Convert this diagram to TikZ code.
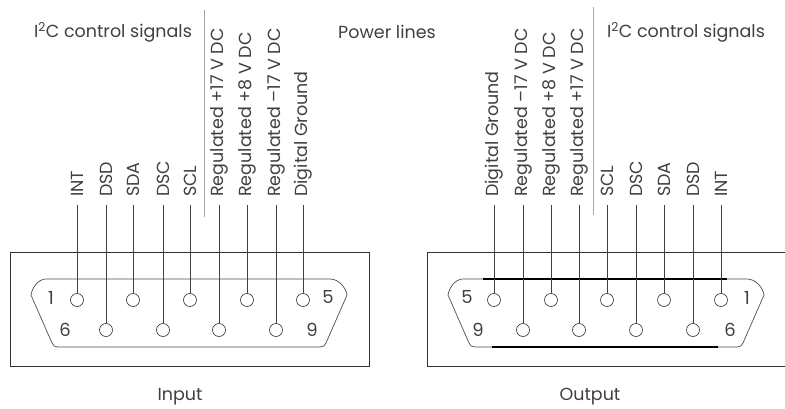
\documentclass[tikz,border=0pt]{standalone}
\usepackage{fontspec}
\setmainfont{Poppins}
\begin{document}
\begin{tikzpicture}[x=1pt,y=-1pt,
  wire/.style={draw=black!75,line width=0.8pt},
  sep/.style={draw=black!35,line width=0.8pt},
  frame/.style={draw=black!80,line width=0.7pt},
  shell/.style={draw=black!70,line width=0.7pt},
  pin/.style={circle,draw=black!80,line width=0.6pt,minimum size=13pt,inner sep=0pt},
  plab/.style={rotate=90,anchor=west,inner sep=0pt,font=\fontsize{17.5}{17.5}\selectfont,text=black!75},
  head/.style={font=\fontsize{17.5}{17.5}\selectfont,text=black!75,inner sep=0pt},
  num/.style={font=\fontsize{18}{18}\selectfont,text=black!75,inner sep=0pt}]
\useasboundingbox (0,0) rectangle (785,409);
\clip (0,0) rectangle (785,409);

% ---------- headings ----------
\node[head] (h1) at (113,32) {I\textsuperscript{2}C control signals};
\node[head] (h2) at (387,32) {Power lines};
\node[head] (h3) at (686,32) {I\textsuperscript{2}C control signals};
\coordinate (s1a) at (204,10); \coordinate (s1b) at (204,217);
\coordinate (s2a) at (593,7);  \coordinate (s2b) at (593,215);
\draw[sep] (s1a) -- (s1b);
\draw[sep] (s2a) -- (s2b);

% ---------- left connector (Input) ----------
\draw[frame] (10,252) rectangle (369,366);
\draw[shell] (46,279) -- (330,279) .. controls (339,279) and (346,288) .. (347,295)
  -- (326,343) .. controls (325,346) and (323,347) .. (320,347) -- (58,347)
  .. controls (55,347) and (53,346) .. (52,343) -- (31,295)
  .. controls (32,288) and (38,279) .. (46,279) -- cycle;
\node[pin] (a1) at (77,300) {};
\node[pin] (a2) at (133,300) {};
\node[pin] (a3) at (190,300) {};
\node[pin] (a4) at (247,300) {};
\node[pin] (a5) at (303,300) {};
\node[pin] (a6) at (106,330) {};
\node[pin] (a7) at (163,330) {};
\node[pin] (a8) at (219,330) {};
\node[pin] (a9) at (276,330) {};
\node[num] (an1) at (51,298) {1};
\node[num] (an5) at (328,297) {5};
\node[num] (an6) at (65,330) {6};
\node[num] (an9) at (312,330) {9};
\node[head] (inp) at (180,397) {Input};

\node[plab] (la1) at (77,197) {INT};
\node[plab] (la6) at (106,197) {DSD};
\node[plab] (la2) at (133,197) {SDA};
\node[plab] (la7) at (163,197) {DSC};
\node[plab] (la3) at (190,197) {SCL};
\node[plab] (la8) at (219,197) {Regulated +17 V DC};
\node[plab] (la4) at (247,197) {Regulated +8 V DC};
\node[plab] (la9) at (276,197) {Regulated –17 V DC};
\node[plab] (la5) at (303,197) {Digital Ground};
\foreach \i in {1,...,9}{\draw[wire] ([yshift=-8pt]la\i.west) -- (a\i.north);}

% ---------- right connector (Output) ----------
\draw[frame] (790,252) -- (427,252) -- (427,366) -- (790,366);
\begin{scope}[shift={(417,0)}]
\draw[shell] (46,279) -- (330,279) .. controls (339,279) and (346,288) .. (347,295)
  -- (326,343) .. controls (325,346) and (323,347) .. (320,347) -- (58,347)
  .. controls (55,347) and (53,346) .. (52,343) -- (31,295)
  .. controls (32,288) and (38,279) .. (46,279) -- cycle;
\end{scope}
\coordinate (t1) at (483,279); \coordinate (t2) at (727,279);
\coordinate (u1) at (492,347); \coordinate (u2) at (718,347);
\draw[black,line width=1.4pt] (t1) -- (t2);
\draw[black,line width=1.4pt] (u1) -- (u2);
\node[pin] (b5) at (494,300) {};
\node[pin] (b4) at (551,300) {};
\node[pin] (b3) at (607,300) {};
\node[pin] (b2) at (664,300) {};
\node[pin] (b1) at (721,300) {};
\node[pin] (b9) at (523,330) {};
\node[pin] (b8) at (579,330) {};
\node[pin] (b7) at (636,330) {};
\node[pin] (b6) at (693,330) {};
\node[num] (bn5) at (467,297) {5};
\node[num] (bn1) at (747,298) {1};
\node[num] (bn9) at (478,330) {9};
\node[num] (bn6) at (730,330) {6};
\node[head] (outp) at (590,397) {Output};

\node[plab] (lb5) at (494,197) {Digital Ground};
\node[plab] (lb9) at (523,197) {Regulated –17 V DC};
\node[plab] (lb4) at (551,197) {Regulated +8 V DC};
\node[plab] (lb8) at (579,197) {Regulated +17 V DC};
\node[plab] (lb3) at (607,197) {SCL};
\node[plab] (lb7) at (636,197) {DSC};
\node[plab] (lb2) at (664,197) {SDA};
\node[plab] (lb6) at (693,197) {DSD};
\node[plab] (lb1) at (721,197) {INT};
\foreach \i in {1,...,9}{\draw[wire] ([yshift=-8pt]lb\i.west) -- (b\i.north);}
\end{tikzpicture}
\end{document}
